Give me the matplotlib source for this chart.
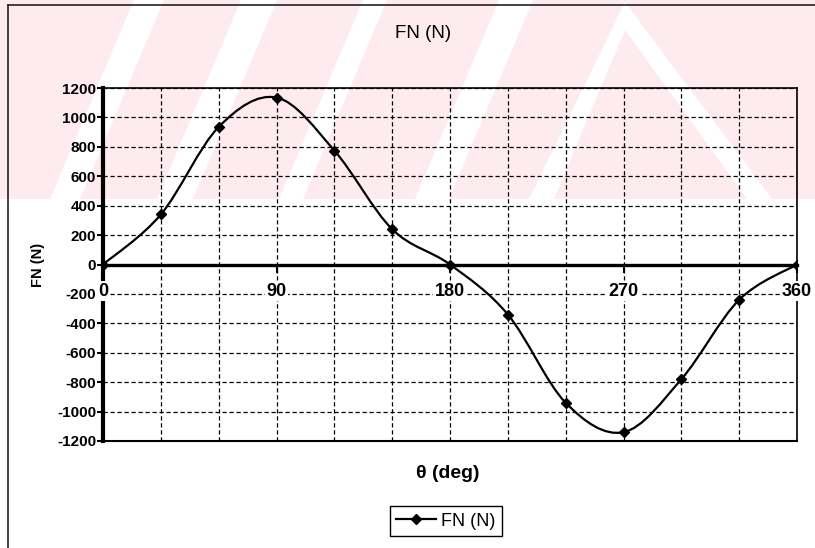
import matplotlib
matplotlib.use("Agg")
import matplotlib.pyplot as plt
from matplotlib.path import Path
from matplotlib.patches import PathPatch, Polygon, Rectangle
from matplotlib.lines import Line2D
import numpy as np

# data (every 30 deg)
theta_deg = [0, 30, 60, 90, 120, 150, 180, 210, 240, 270, 300, 330, 360]
fn_newton = [0, 340, 935, 1135, 775, 240, 0, -340, -940, -1140, -780, -240, 0]
x_ticks = [0, 90, 180, 270, 360]
y_ticks = list(range(-1200, 1201, 200))

W, H = 815, 548
FONT = "Liberation Sans"
PINK = "#fdebef"


def fx(px):
    return px / W


def fy(py):
    return 1 - py / H


def smooth_path(xs, ys):
    # excel-like smoothed line: cubic bezier with catmull-rom style handles
    p = np.column_stack([xs, ys]).astype(float)
    n = len(p)
    verts = [p[0]]
    codes = [Path.MOVETO]
    for i in range(n - 1):
        prev = p[i - 1] if i > 0 else p[i]
        nxt = p[i + 2] if i + 2 < n else p[i + 1]
        c1 = p[i] + (p[i + 1] - prev) / 6
        c2 = p[i + 1] - (nxt - p[i]) / 6
        verts += [c1, c2, p[i + 1]]
        codes += [Path.CURVE4] * 3
    return Path(verts, codes)


fig = plt.figure(figsize=(W / 100, H / 100), dpi=100)
fig.patch.set_facecolor("white")

# faint pink watermark across the top of the scan (kept behind the axes)
fig.add_artist(Rectangle((0, fy(199)), 1, 199 / H, transform=fig.transFigure,
                         facecolor=PINK, edgecolor="none", zorder=-3))
stripes = [(50, 30), (157, 36), (279, 24), (415, 34)]  # x at bottom edge, width
for xb, w in stripes:
    pts = [(xb, 199), (xb + w, 199), (xb + w + 84, 0), (xb + 84, 0)]
    fig.add_artist(Polygon([(fx(a), fy(b)) for a, b in pts], closed=True,
                           transform=fig.transFigure, facecolor="white",
                           edgecolor="none", zorder=-2))
chev = [(554, 199), (625, 30), (747, 199), (772, 199), (625, 2), (529, 199)]
fig.add_artist(Polygon([(fx(a), fy(b)) for a, b in chev], closed=True,
                       transform=fig.transFigure, facecolor="white",
                       edgecolor="none", zorder=-2))

# outer chart frame (cut off at right / bottom in the scan)
fig.add_artist(Line2D([fx(8), fx(8)], [fy(5), 0], transform=fig.transFigure,
                      color="#222222", lw=1.2))
fig.add_artist(Line2D([fx(8), 1], [fy(5), fy(5)], transform=fig.transFigure,
                      color="#222222", lw=1.2))

ax = fig.add_axes([fx(103), fy(441), fx(797) - fx(103), fy(88) - fy(441)])
ax.patch.set_alpha(0)

ax.add_patch(PathPatch(smooth_path(theta_deg, fn_newton), fill=False,
                       edgecolor="black", lw=1.6, zorder=2))
ax.plot(theta_deg, fn_newton, ls="none", marker="D", ms=5.5, color="black", zorder=2.2)

ax.set_xlim(0, 360)
ax.set_ylim(-1200, 1200)
ax.set_xticks(x_ticks)
ax.set_xticks(np.arange(0, 361, 30), minor=True)
ax.set_yticks(y_ticks)

ax.spines["bottom"].set_position(("data", 0))
ax.spines["bottom"].set_linewidth(2.4)
ax.spines["left"].set_linewidth(3)
ax.spines["top"].set_linewidth(1.2)
ax.spines["right"].set_linewidth(1.2)
ax.axhline(-1200, color="black", lw=1.5, clip_on=False, zorder=2.5)

dash = (0, (3.4, 2.2))
ax.grid(True, which="both", axis="x", color="black", lw=0.9, ls=dash)
ax.grid(True, which="major", axis="y", color="black", lw=0.9, ls=dash)

ax.tick_params(axis="x", which="major", direction="out", length=6, width=1.5,
               pad=7, labelsize=13)
ax.tick_params(axis="x", which="minor", length=0)
ax.tick_params(axis="y", direction="out", length=4, width=1.5, pad=1, labelsize=11)
ax.set_xticklabels([str(v) for v in x_ticks], fontfamily=FONT, fontweight="bold")
ax.set_yticklabels([str(v) for v in y_ticks], fontfamily=FONT, fontweight="bold")
for lbl in ax.get_xticklabels():
    lbl.set_bbox(dict(facecolor="white", edgecolor="none", pad=1.0))
ax.xaxis.set_zorder(3)

fig.text(fx(423), fy(33), "FN (N)", ha="center", va="center", fontsize=13.5,
         fontfamily=FONT)
fig.text(fx(38), fy(265), "FN (N)", ha="center", va="center", rotation=90,
         fontsize=10.5, fontweight="bold", fontfamily=FONT)
fig.text(fx(448), fy(473), "θ (deg)", ha="center", va="center", fontsize=14,
         fontweight="bold", fontfamily=FONT)

handle = Line2D([], [], color="black", lw=1.6, marker="D", ms=5)
leg = ax.legend([handle], ["FN (N)"], loc="center",
                bbox_to_anchor=(fx(446), fy(521)), bbox_transform=fig.transFigure,
                fancybox=False, frameon=True, edgecolor="black", framealpha=1,
                prop={"family": FONT, "size": 13}, handlelength=2.2,
                handletextpad=0.3, borderpad=0.35, borderaxespad=0)
leg.get_frame().set_linewidth(1.0)

fig.savefig("out.png", dpi=100)
